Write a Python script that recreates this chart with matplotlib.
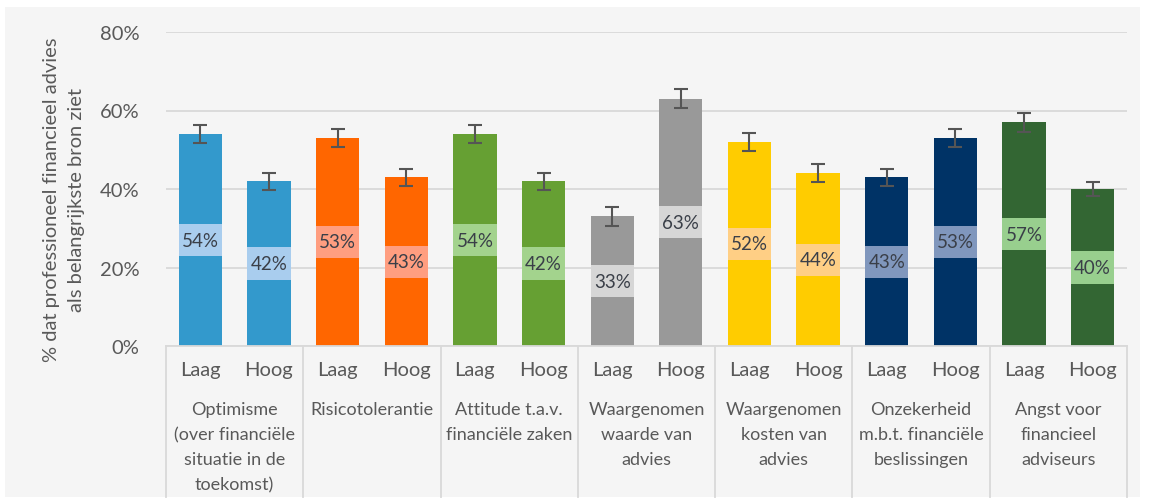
import numpy as np
import matplotlib.pyplot as plt
from matplotlib.patches import Rectangle
import matplotlib.transforms as mtransforms

plt.rcParams['font.family'] = ['Lato', 'DejaVu Sans']

# data
groups = ["Optimisme\n(over financiële\nsituatie in de\ntoekomst)",
          "Risicotolerantie",
          "Attitude t.a.v.\nfinanciële zaken",
          "Waargenomen\nwaarde van\nadvies",
          "Waargenomen\nkosten van\nadvies",
          "Onzekerheid\nm.b.t. financiële\nbeslissingen",
          "Angst voor\nfinancieel\nadviseurs"]
levels = ["Laag", "Hoog"]
laag = [54, 53, 54, 33, 52, 43, 57]
hoog = [42, 43, 42, 63, 44, 53, 40]
err_laag = [2.2, 2.4, 2.4, 2.4, 2.2, 2.2, 2.4]
err_hoog = [2.2, 2.2, 2.2, 2.4, 2.3, 2.2, 1.9]
colors = ["#3399cc", "#ff6600", "#66a033", "#999999", "#ffcc00", "#003366", "#336633"]
box_colors = ["#a9cdee", "#ff9e80", "#a3d38d", "#d6d6d6", "#ffcf85", "#8097bd", "#98cf8e"]
ylabel = "% dat professioneel financieel advies\nals belangrijkste bron ziet"

vals = np.array([v for pair in zip(laag, hoog) for v in pair])
errs = np.array([v for pair in zip(err_laag, err_hoog) for v in pair])
bar_cols = [c for c in colors for _ in range(2)]
box_cols = [c for c in box_colors for _ in range(2)]
x = np.arange(len(vals))

bg = "#f5f5f5"
fig = plt.figure(figsize=(11.5, 5.02), dpi=100, facecolor="white")
fig.patches.append(Rectangle((5 / 1150, 4 / 502), 1135 / 1150, 490 / 502,
                             transform=fig.transFigure, facecolor=bg,
                             edgecolor="none", zorder=-10))
ax = fig.add_axes([166 / 1150, 1 - 347 / 502, (1127 - 166) / 1150, 314 / 502])
ax.set_facecolor(bg)

ax.set_ylim(0, 80)
ax.set_xlim(-0.5, len(vals) - 0.5)
ax.set_yticks([0, 20, 40, 60, 80])
ax.set_yticklabels(["0%", "20%", "40%", "60%", "80%"])
ax.yaxis.grid(True, color="#d9d9d9", lw=1.3)
ax.set_axisbelow(True)
for s in ["top", "right", "left"]:
    ax.spines[s].set_visible(False)
ax.spines["bottom"].set_color("#d9d9d9")
ax.spines["bottom"].set_linewidth(1.3)
ax.tick_params(axis="y", length=0, pad=19, labelsize=14.5, labelcolor="#595959")
ax.tick_params(axis="x", length=0, pad=11, labelsize=14.5, labelcolor="#595959")
ax.set_xticks(x)
ax.set_xticklabels(levels * len(groups))

w = 0.63
ax.bar(x, vals, width=w, color=bar_cols, zorder=2)
ax.errorbar(x, vals, yerr=errs, fmt="none", ecolor="#555555", elinewidth=1.5,
            capsize=5, capthick=1.5, zorder=4)

# value labels on lighter boxes at mid-height
for xi, v, bc in zip(x, vals, box_cols):
    ax.add_patch(Rectangle((xi - w / 2, v / 2 - 4.1), w, 8.2, facecolor=bc,
                           edgecolor="none", zorder=3))
    ax.text(xi, v / 2, f"{v}%", ha="center", va="center", fontsize=13.5,
            color="#3a3f48", zorder=5)

# group separators and labels below the axis
trans = mtransforms.blended_transform_factory(ax.transData, ax.transAxes)
depth = -(498 - 347) / 314
for b in np.arange(-0.5, len(vals), 2):
    ax.plot([b, b], [0, depth], transform=trans, color="#d9d9d9", lw=1.3,
            clip_on=False)
for i, g in enumerate(groups):
    ax.text(2 * i + 0.5, -(402 - 347) / 314, g, transform=trans, ha="center",
            va="top", fontsize=13, color="#595959", linespacing=1.7)

fig.text(64 / 1150, 1 - 200 / 502, ylabel, rotation=90, ha="center",
         va="center", fontsize=14.5, color="#595959", linespacing=1.55)

fig.savefig("out.png", dpi=100, facecolor="white")
